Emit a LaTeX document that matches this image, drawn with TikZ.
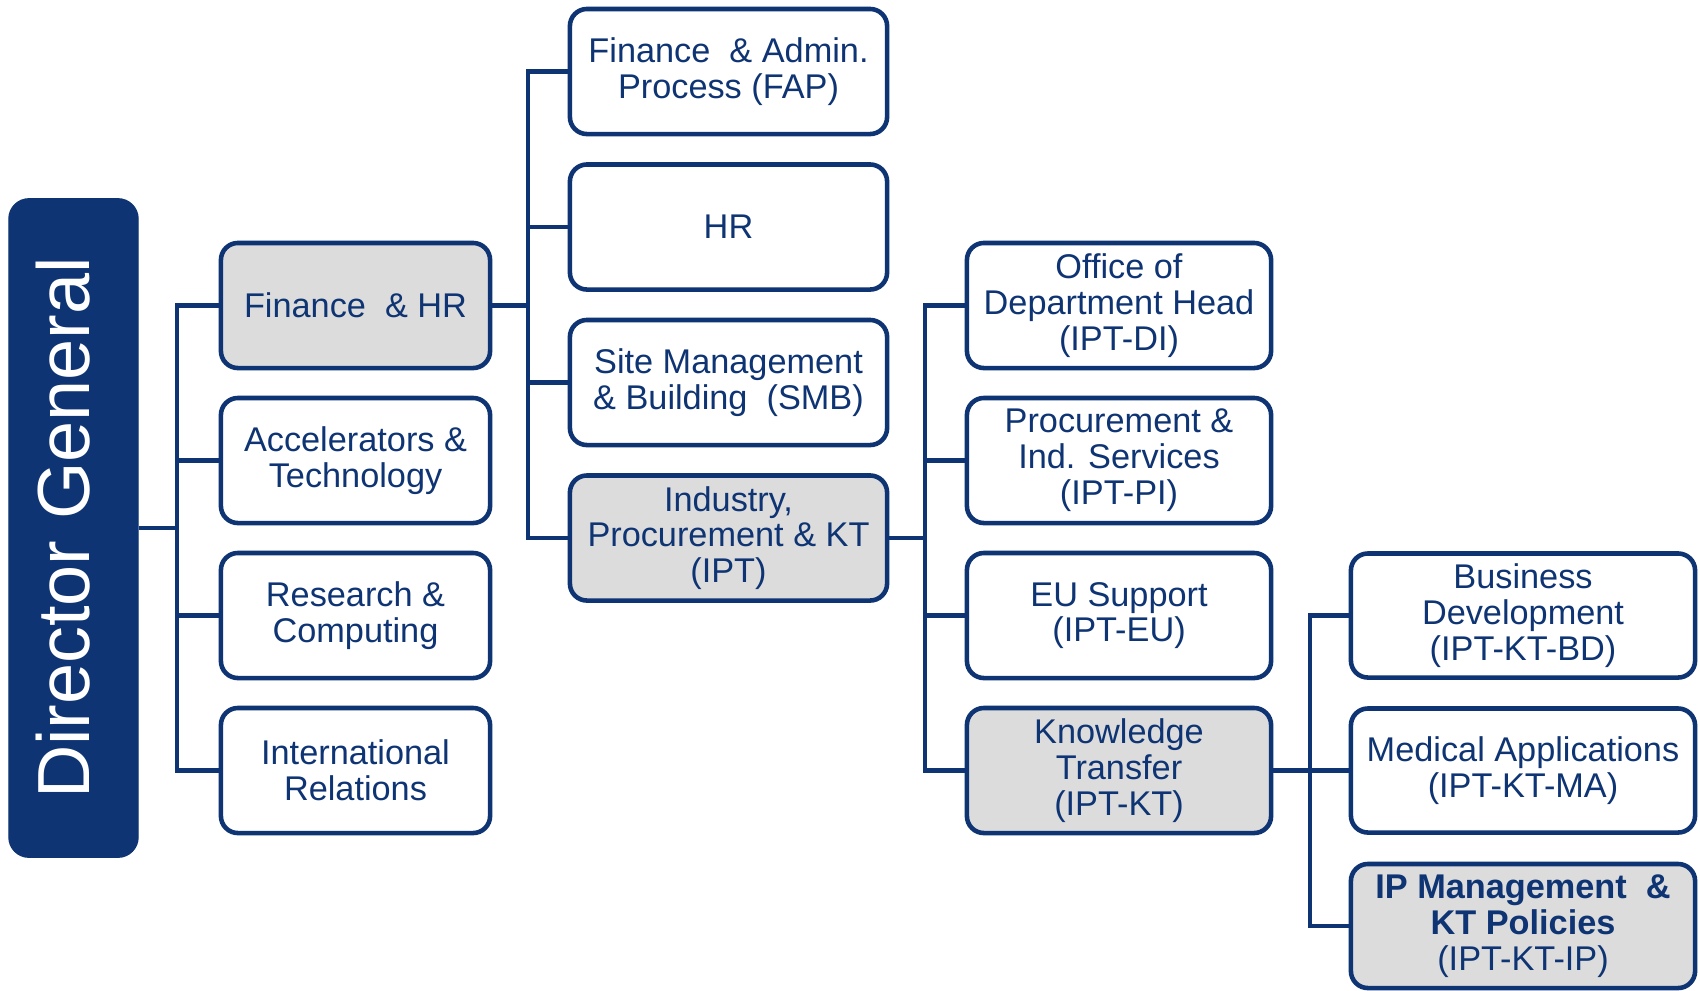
\documentclass[tikz,border=0pt]{standalone}
\usepackage{fontspec}
\setmainfont{Liberation Sans}
\usetikzlibrary{positioning}
\definecolor{navy}{RGB}{14,52,115}
\definecolor{boxgrey}{RGB}{220,220,220}
\tikzset{
  orgbox/.style={draw=navy, line width=1.3pt, rounded corners=0.17cm, fill=white,
    text=navy, align=center, inner sep=0pt, font=\fontsize{9.75}{10.2}\selectfont},
  greybox/.style={orgbox, fill=boxgrey},
  lvlone/.style={minimum width=2.69cm, minimum height=1.25cm},
  lvltwo/.style={minimum width=3.17cm, minimum height=1.25cm},
  lvlthree/.style={minimum width=3.04cm, minimum height=1.25cm},
  lvlfour/.style={minimum width=3.44cm, minimum height=1.24cm},
  link/.style={draw=navy, line width=1.2pt},
}

\begin{document}
\begin{tikzpicture}[x=0.01cm, y=-0.01cm]
\fill [white] (0,0) rectangle (1700,990);
\useasboundingbox (0,0) rectangle (1700,990);

% head
\node [fill=navy, draw=navy, rounded corners=0.2cm, minimum width=1.29cm, minimum height=6.58cm] (dg) at (73.5,528) {};
\node [rotate=90, text=white, font=\fontsize{21}{25}\selectfont] (dgtext) at ([xshift=-3]dg.center) {Director General};

% departments
\node [greybox, lvlone] (fhr) at (355.5,305.5) {Finance \ \& HR};
\node [orgbox, lvlone] (acc) at (355.5,460.5) {Accelerators \&\\Technology};
\node [orgbox, lvlone] (res) at (355.5,615.5) {Research \&\\Computing};
\node [orgbox, lvlone] (intl) at (355.5,770.5) {International\\Relations};

% finance & hr
\node [orgbox, lvltwo] (fap) at (728.5,71.5) {Finance \ \& Admin.\\Process (FAP)};
\node [orgbox, lvltwo] (hr) at (728.5,227) {HR};
\node [orgbox, lvltwo] (smb) at (728.5,382.5) {Site Management\\\& Building \ (SMB)};
\node [greybox, lvltwo] (ipt) at (728.5,538) {Industry,\\Procurement \& KT\\(IPT)};

% ipt
\node [orgbox, lvlthree] (di) at (1119,305.5) {Office of\\Department Head\\(IPT-DI)};
\node [orgbox, lvlthree] (pi) at (1119,460.5) {Procurement \&\\Ind. Services\\(IPT-PI)};
\node [orgbox, lvlthree] (eu) at (1119,615.5) {EU Support\\(IPT-EU)};
\node [greybox, lvlthree] (kt) at (1119,770.5) {Knowledge\\Transfer\\(IPT-KT)};

% kt
\node [orgbox, lvlfour] (bd) at (1523,615.5) {Business\\Development\\(IPT-KT-BD)};
\node [orgbox, lvlfour] (ma) at (1523,770.5) {Medical Applications\\(IPT-KT-MA)};
\node [greybox, lvlfour] (ip) at (1523,926) {\textbf{IP Management \ \&}\\\textbf{KT Policies}\\(IPT-KT-IP)};

% connectors
\foreach \c in {fhr,acc,res,intl}
  \draw [link] (\c.west) -- ++(-42,0) |- (dg.east);
\foreach \c in {fap,hr,smb,ipt}
  \draw [link] (\c.west) -- ++(-40,0) |- (fhr.east);
\foreach \c in {di,pi,eu,kt}
  \draw [link] (\c.west) -- ++(-40,0) |- (ipt.east);
\foreach \c in {bd,ma,ip}
  \draw [link] (\c.west) -- ++(-39,0) |- (kt.east);
\end{tikzpicture}
\end{document}
